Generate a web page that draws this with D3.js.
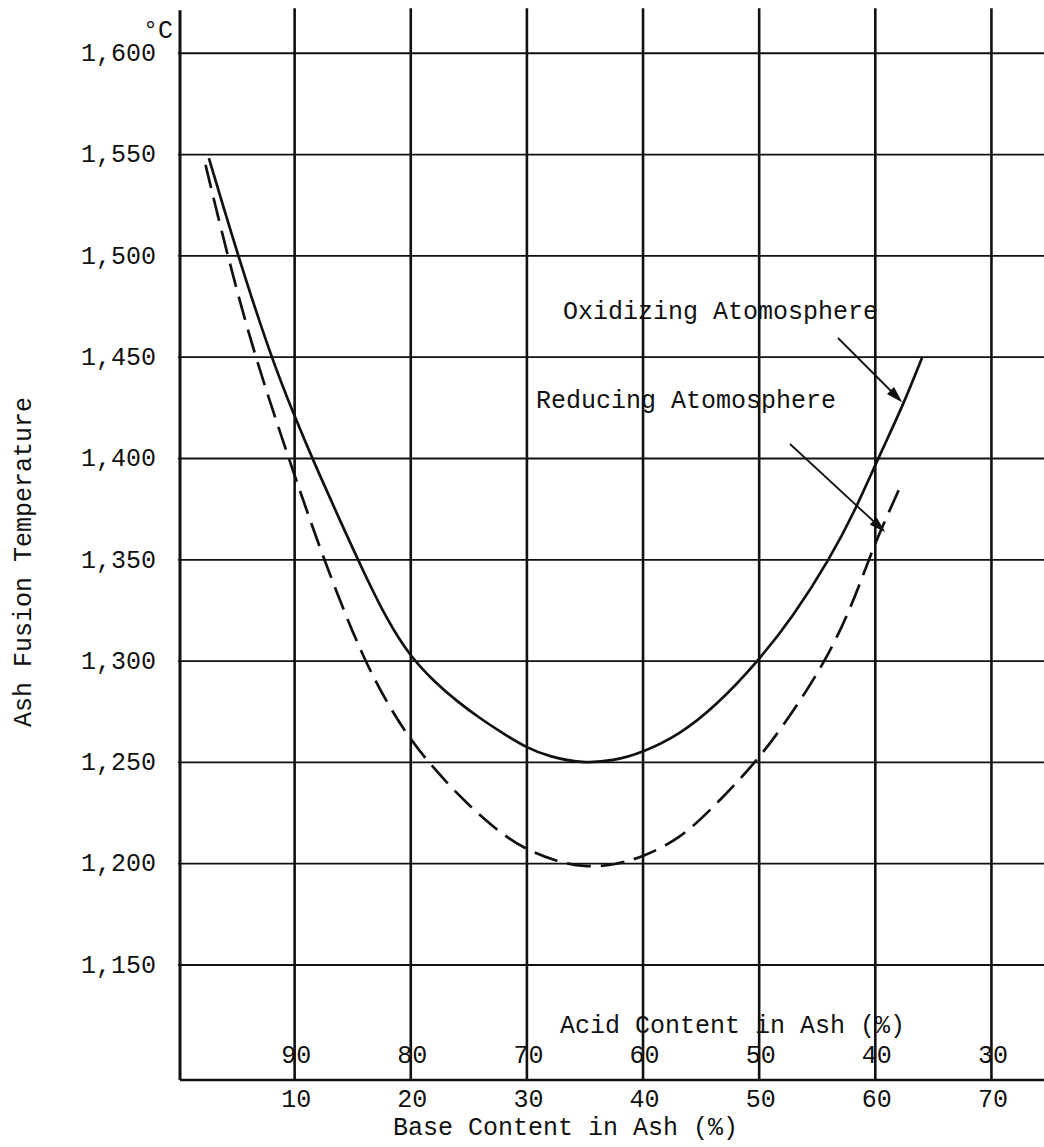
<!DOCTYPE html>
<html>
<head>
<meta charset="utf-8">
<script src="https://cdn.jsdelivr.net/npm/d3@7"></script>
<style>
  html, body { margin: 0; padding: 0; background: #fff; }
  svg { display: block; }
  text { font-family: "Courier New", "Liberation Mono", monospace; fill: #111; }
</style>
</head>
<body>
<div id="chart"></div>
<script>
// Base content of ash (%) on the lower axis; acid content = 100 - base.
const baseTicks = [10, 20, 30, 40, 50, 60, 70];
const acidTicks = [90, 80, 70, 60, 50, 40, 30];
const tempTicks = [1150, 1200, 1250, 1300, 1350, 1400, 1450, 1500, 1550, 1600];

// Ash fusion temperature (°C) in an oxidizing atmosphere
const oxidizingBase = [2.66, 5.15, 8.0, 10, 12, 14, 16, 18, 20, 22, 24, 26, 28, 30, 32, 34.8, 37.5, 40, 43.2, 46.3, 50, 53, 56.1, 58.3, 60.3, 62.4, 64.1];
const oxidizingTemp = [1548, 1500, 1450, 1421, 1394, 1368.5, 1343.5, 1320, 1302, 1290, 1280, 1271.5, 1264, 1257, 1252.5, 1249.3, 1250.5, 1254.6, 1263.5, 1277.5, 1300, 1322, 1350, 1374, 1400, 1425.5, 1450];

// Ash fusion temperature (°C) in a reducing atmosphere
const reducingBase = [2.37, 4.25, 6.62, 9.3, 10, 12, 14, 16, 18, 20, 22, 24, 26.2, 27.95, 30, 32.5, 35, 37.5, 40, 43.2, 46, 50, 53.3, 55.8, 57.8, 59.5, 60.4, 62.4];
const reducingTemp = [1544.7, 1500, 1450, 1404, 1392, 1359, 1328.5, 1301, 1279, 1261, 1247, 1234.5, 1222.5, 1214.2, 1206.7, 1201, 1198, 1199, 1203, 1212, 1227, 1251, 1277.5, 1300.5, 1324, 1350, 1363, 1388.5];

const W = 1044, H = 1147;
const FS = 25;

const svg = d3.select("#chart").append("svg")
  .attr("width", W).attr("height", H);

const x = d3.scaleLinear().domain([0, 75]).range([178, 1049]);
const y = d3.scaleLinear().domain([1093, 1622]).range([1080, 8.2]);

const ink = "#111";

// horizontal grid lines
svg.append("g")
  .attr("transform", `translate(${x(0)},0)`)
  .call(d3.axisLeft(y).tickValues(tempTicks).tickSize(-(x(75) - x(0))).tickFormat(""))
  .call(g => g.select(".domain").remove())
  .call(g => g.selectAll(".tick line").attr("stroke", ink).attr("stroke-width", 1.8));

// vertical grid lines
svg.append("g")
  .attr("transform", `translate(0,${y(1093)})`)
  .call(d3.axisBottom(x).tickValues(baseTicks).tickSize(-(y(1093) - y(1622))).tickFormat(""))
  .call(g => g.select(".domain").remove())
  .call(g => g.selectAll(".tick line").attr("stroke", ink).attr("stroke-width", 2.6));

// frame: left axis and bottom axis
svg.append("line")
  .attr("x1", x(0) + 2).attr("x2", x(0) + 2)
  .attr("y1", y(1093)).attr("y2", y(1621))
  .attr("stroke", ink).attr("stroke-width", 3);
svg.append("line")
  .attr("x1", x(0) + 2).attr("x2", x(75))
  .attr("y1", y(1093)).attr("y2", y(1093))
  .attr("stroke", ink).attr("stroke-width", 2.6);

// temperature labels
svg.append("g")
  .selectAll("text")
  .data(tempTicks)
  .join("text")
  .attr("x", 156)
  .attr("y", d => y(d))
  .attr("dy", "0.33em")
  .attr("text-anchor", "end")
  .attr("font-size", FS)
  .text(d => d3.format(",")(d));

svg.append("text")
  .attr("x", 143).attr("y", 38)
  .attr("font-size", FS)
  .text("°C");

// y title
svg.append("text")
  .attr("transform", `translate(31,562) rotate(-90)`)
  .attr("text-anchor", "middle")
  .attr("font-size", FS)
  .text("Ash Fusion Temperature");

// base content labels
svg.append("g")
  .selectAll("text")
  .data(baseTicks)
  .join("text")
  .attr("x", d => x(d) + 2)
  .attr("y", 1107)
  .attr("text-anchor", "middle")
  .attr("font-size", FS)
  .text(d => d);

// acid content labels
svg.append("g")
  .selectAll("text")
  .data(acidTicks)
  .join("text")
  .attr("x", (d, i) => x(baseTicks[i]) + 2)
  .attr("y", 1063)
  .attr("text-anchor", "middle")
  .attr("font-size", FS)
  .text(d => d);

svg.append("text")
  .attr("x", 560).attr("y", 1033)
  .attr("font-size", FS)
  .text("Acid Content in Ash (%)");

svg.append("text")
  .attr("x", 393).attr("y", 1135)
  .attr("font-size", FS)
  .text("Base Content in Ash (%)");

// curves
const line = d3.line()
  .x(d => x(d[0]))
  .y(d => y(d[1]))
  .curve(d3.curveBasis);

const oxidizing = oxidizingBase.map((b, i) => [b, oxidizingTemp[i]]);
const reducing = reducingBase.map((b, i) => [b, reducingTemp[i]]);

svg.append("path")
  .datum(oxidizing)
  .attr("d", line)
  .attr("fill", "none")
  .attr("stroke", ink)
  .attr("stroke-width", 2.7);

svg.append("path")
  .datum(reducing)
  .attr("d", line)
  .attr("fill", "none")
  .attr("stroke", ink)
  .attr("stroke-width", 2.7)
  .attr("stroke-dasharray", "24,10");

// annotations
svg.append("text")
  .attr("x", 563).attr("y", 319)
  .attr("font-size", FS)
  .text("Oxidizing Atomosphere");

svg.append("text")
  .attr("x", 536).attr("y", 408)
  .attr("font-size", FS)
  .text("Reducing Atomosphere");

function arrow(x1, y1, x2, y2) {
  const g = svg.append("g").attr("stroke", ink).attr("stroke-width", 1.8).attr("fill", "none");
  g.append("line").attr("x1", x1).attr("y1", y1).attr("x2", x2).attr("y2", y2);
  const a = Math.atan2(y2 - y1, x2 - x1);
  const L = 14, s = 0.3;
  g.append("path")
    .attr("fill", ink)
    .attr("d", `M${x2 - L * Math.cos(a - s)},${y2 - L * Math.sin(a - s)}L${x2},${y2}L${x2 - L * Math.cos(a + s)},${y2 - L * Math.sin(a + s)}`);
}
arrow(838, 338, 900, 400);
arrow(790, 444, 883, 530);
</script>
</body>
</html>
